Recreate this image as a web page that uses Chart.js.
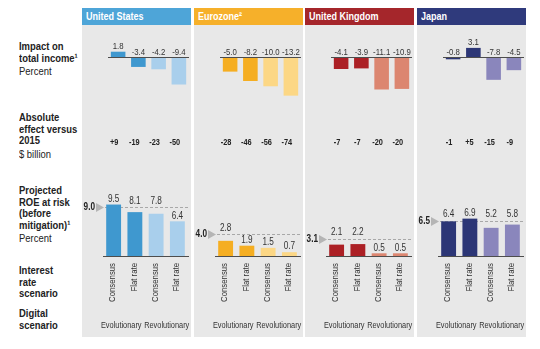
<!DOCTYPE html>
<html>
<head>
<meta charset="utf-8">
<script src="https://cdn.jsdelivr.net/npm/chart.js@4.4.1/dist/chart.umd.min.js"></script>
<style>
  html, body { margin: 0; padding: 0; background: #fff; }
  body { width: 540px; height: 349px; position: relative; overflow: hidden;
         font-family: "Liberation Sans", Arial, sans-serif; color: #222; }
  .lbl { position: absolute; left: 19px; font-size: 11.5px; line-height: 11.5px;
         transform: scaleX(0.82); transform-origin: left top; white-space: nowrap; }
  .lbl b { font-weight: bold; }
  .lbl .unit { display: block; margin-top: 2px; }
  .panel { position: absolute; top: 25px; width: 109px; height: 312px; background: #e8e8e8; }
  .head { position: absolute; top: 8px; width: 109px; height: 17px; line-height: 17px;
          color: #fff; font-weight: bold; font-size: 11px; padding-left: 4px; box-sizing: border-box; }
  .head span { display: inline-block; transform: scaleX(0.82); transform-origin: left center; white-space: nowrap; }
  canvas { position: absolute; }
</style>
</head>
<body>
<div class="lbl" style="top:41px"><b>Impact on<br>total income¹</b><span class="unit">Percent</span></div>
<div class="lbl" style="top:112px"><b>Absolute<br>effect versus<br>2015</b><span class="unit">$ billion</span></div>
<div class="lbl" style="top:185px"><b>Projected<br>ROE at risk<br>(before<br>mitigation)¹</b><span class="unit">Percent</span></div>
<div class="lbl" style="top:265px"><b>Interest<br>rate<br>scenario</b></div>
<div class="lbl" style="top:308px"><b>Digital<br>scenario</b></div>

<script>
const regions = ['United States', 'Eurozone²', 'United Kingdom', 'Japan'];
const rateScenarios = ['Consensus', 'Flat rate', 'Consensus', 'Flat rate'];
const digitalScenarios = ['Evolutionary', 'Revolutionary'];

// impact on total income, percent
const incomeUS = [1.8, -3.4, -4.2, -9.4];
const incomeEZ = [-5.0, -8.2, -10.0, -13.2];
const incomeUK = [-4.1, -3.9, -11.1, -10.9];
const incomeJP = [-0.8, 3.1, -7.8, -4.5];

// absolute effect versus 2015, $ billion
const absUS = [9, -19, -23, -50];
const absEZ = [-28, -46, -56, -74];
const absUK = [-7, -7, -20, -20];
const absJP = [-1, 5, -15, -9];

// projected ROE at risk (before mitigation), percent
const roeUS = [9.5, 8.1, 7.8, 6.4];
const roeEZ = [2.8, 1.9, 1.5, 0.7];
const roeUK = [2.1, 2.2, 0.5, 0.5];
const roeJP = [6.4, 6.9, 5.2, 5.8];
const roeBefore = [9.0, 4.0, 3.1, 6.5];

const headColors = ['#4ea5d8', '#f6b02a', '#a5262b', '#2f3a7c'];
const evoColors = ['#3f98cf', '#f5ae22', '#ac2025', '#2c3676'];
const revoColors = ['#a9cfec', '#fcd785', '#dc8670', '#8a86bc'];

const income = [incomeUS, incomeEZ, incomeUK, incomeJP];
const absolute = [absUS, absEZ, absUK, absJP];
const roe = [roeUS, roeEZ, roeUK, roeJP];

const FONT = '"Liberation Sans", Arial, sans-serif';
const SQUEEZE = 0.82;   // fake a condensed face
Chart.defaults.font.family = FONT;

function txt(ctx, s, x, y, font, color, align, angle) {
  ctx.save();
  ctx.translate(x, y);
  if (angle) ctx.rotate(angle);
  ctx.scale(SQUEEZE, 1);
  ctx.font = font;
  ctx.fillStyle = color;
  ctx.textAlign = align || 'center';
  ctx.textBaseline = 'middle';
  ctx.fillText(s, 0, 0);
  ctx.restore();
}

const incomeLabels = {
  id: 'incomeLabels',
  afterDatasetsDraw(chart, args, opts) {
    const { ctx, chartArea: a, scales: { x, y } } = chart;
    const y0 = Math.round(y.getPixelForValue(0)) + 0.5;
    ctx.save();
    ctx.strokeStyle = '#4d4d4d';
    ctx.lineWidth = 1;
    ctx.beginPath();
    ctx.moveTo(a.left, y0);
    ctx.lineTo(a.right, y0);
    ctx.stroke();
    ctx.restore();
    chart.data.datasets[0].data.forEach((v, j) => {
      const px = x.getPixelForValue(j);
      const py = v > 0 ? y.getPixelForValue(v) - 5.5 : y0 - 5.5;
      txt(ctx, v.toFixed(1), px, py, '9.5px ' + FONT, '#333');
    });
    opts.abs.forEach((v, j) => {
      txt(ctx, (v > 0 ? '+' : '') + v, x.getPixelForValue(j) - 4, a.bottom + 45, 'bold 9px ' + FONT, '#222');
    });
  }
};

const roeMarks = {
  id: 'roeMarks',
  beforeDatasetsDraw(chart, args, opts) {
    const { ctx, chartArea: a, scales: { y } } = chart;
    const ry = Math.round(y.getPixelForValue(opts.ref)) + 0.5;
    ctx.save();
    ctx.strokeStyle = '#a8a8a8';
    ctx.setLineDash([3, 2]);
    ctx.beginPath();
    ctx.moveTo(a.left + 2, ry);
    ctx.lineTo(a.right + 2, ry);
    ctx.stroke();
    ctx.setLineDash([]);
    ctx.fillStyle = '#b5b5b5';
    ctx.beginPath();
    ctx.moveTo(a.left - 7, ry - 4.5);
    ctx.lineTo(a.left + 1, ry);
    ctx.lineTo(a.left - 7, ry + 4.5);
    ctx.closePath();
    ctx.fill();
    ctx.restore();
    txt(ctx, opts.ref.toFixed(1), a.left - 8, ry, 'bold 10px ' + FONT, '#222', 'right');
  },
  afterDatasetsDraw(chart, args, opts) {
    const { ctx, chartArea: a, scales: { x, y } } = chart;
    const ry = y.getPixelForValue(opts.ref);
    chart.data.datasets[0].data.forEach((v, j) => {
      let ly = y.getPixelForValue(v) - 5.5;
      if (Math.abs(ly - ry) < 5.5) ly = ry - 6.5;
      txt(ctx, v.toFixed(1), x.getPixelForValue(j), ly, '10px ' + FONT, '#333');
    });
    // interest-rate scenario labels, rotated along the x axis
    chart.data.labels.forEach((l, j) => {
      txt(ctx, l, x.getPixelForValue(j) - 1, a.bottom + 7, '9.5px ' + FONT, '#333', 'right', -Math.PI / 2);
    });
    digitalScenarios.forEach((d, k) => {
      const cx = (x.getPixelForValue(2 * k) + x.getPixelForValue(2 * k + 1)) / 2;
      txt(ctx, d, cx + (k ? 0 : -3), a.bottom + 70, '9px ' + FONT, '#333');
    });
  }
};

regions.forEach((name, i) => {
  const left = Math.round(82 + i * 111.7);
  const panel = document.createElement('div');
  panel.className = 'panel';
  panel.style.left = left + 'px';
  document.body.appendChild(panel);
  const head = document.createElement('div');
  head.className = 'head';
  head.style.left = left + 'px';
  head.style.background = headColors[i];
  head.innerHTML = '<span>' + name + '</span>';
  document.body.appendChild(head);

  const colors = [evoColors[i], evoColors[i], revoColors[i], revoColors[i]];

  const c1 = document.createElement('canvas');
  c1.width = 109; c1.height = 130;
  c1.style.left = left + 'px'; c1.style.top = '25px';
  document.body.appendChild(c1);
  new Chart(c1, {
    type: 'bar',
    data: { labels: rateScenarios, datasets: [{ data: income[i], backgroundColor: colors, barPercentage: 0.72, categoryPercentage: 1 }] },
    options: {
      responsive: false, animation: false,
      layout: { padding: { left: 26, right: 2, top: 10, bottom: 57 } },
      plugins: { legend: { display: false }, tooltip: { enabled: false }, incomeLabels: { abs: absolute[i] } },
      scales: { x: { display: false }, y: { display: false, min: -14, max: 7.5 } }
    },
    plugins: [incomeLabels]
  });

  const c2 = document.createElement('canvas');
  c2.width = 109; c2.height = 157;
  c2.style.left = left + 'px'; c2.style.top = '180px';
  document.body.appendChild(c2);
  new Chart(c2, {
    type: 'bar',
    data: { labels: rateScenarios, datasets: [{ data: roe[i], backgroundColor: colors, barPercentage: 0.7, categoryPercentage: 1 }] },
    options: {
      responsive: false, animation: false,
      layout: { padding: { left: 21, right: 3, top: 11, bottom: 36 } },
      plugins: { legend: { display: false }, tooltip: { enabled: false }, roeMarks: { ref: roeBefore[i] } },
      scales: {
        x: {
          grid: { display: false },
          border: { display: true, color: '#4d4d4d' },
          ticks: { display: false },
          afterFit(s) { s.height = 45; s.paddingLeft = 0; s.paddingRight = 0; }
        },
        y: { display: false, min: 0, max: 12 }
      }
    },
    plugins: [roeMarks]
  });
});
</script>
</body>
</html>
